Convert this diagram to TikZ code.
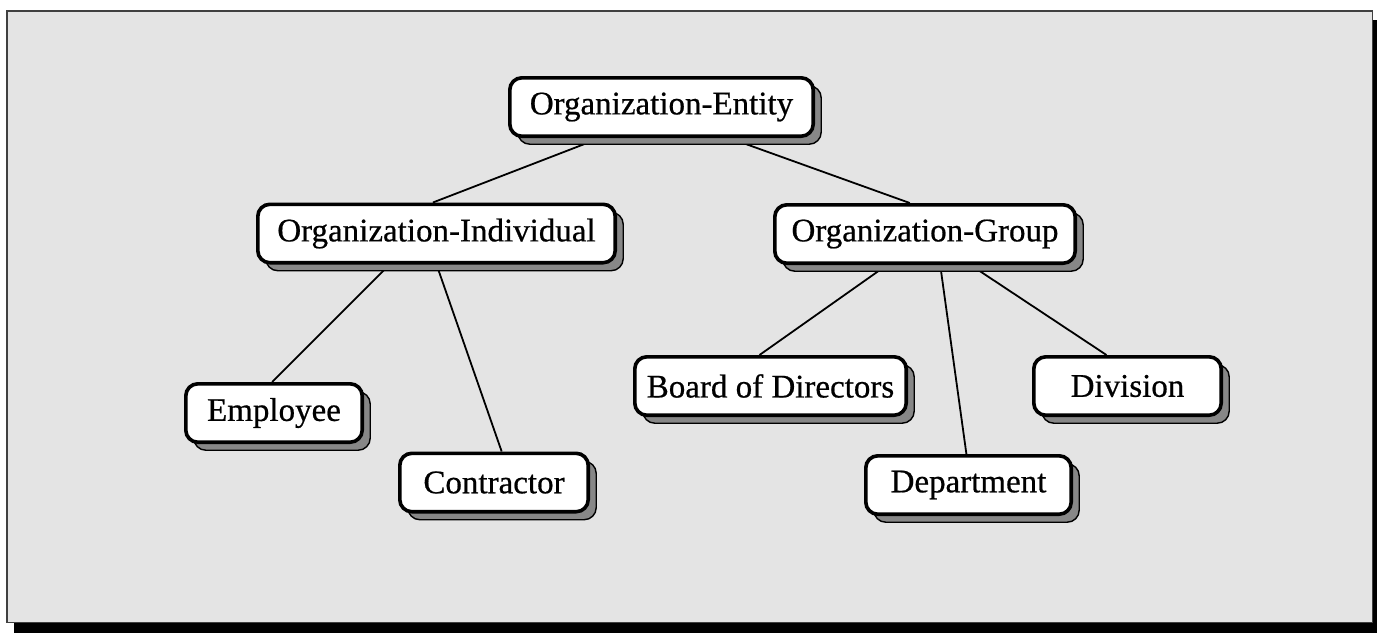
\documentclass[tikz,border=0pt]{standalone}
\usepackage{fontspec}
\setmainfont{Liberation Serif}[FakeBold=0.6]
\usetikzlibrary{calc,shadows,backgrounds}
\definecolor{bg}{RGB}{228,228,228}
\definecolor{shade}{RGB}{135,135,135}
\begin{document}
\begin{tikzpicture}[x=1pt,y=-1pt,
  box/.style={draw=black, line width=3.6pt, rounded corners=12pt, fill=white,
    inner sep=0pt, minimum height=58.4pt,
    font=\fontsize{33}{40}\selectfont,
    drop shadow={shadow xshift=8pt, shadow yshift=-8pt, fill=shade,
      draw=black, line width=1.4pt, opacity=1}},
  link/.style={line width=1.8pt}]
\useasboundingbox (0,0) rectangle (1377,633);
\node[box, minimum width=303.4pt] (ent) at (661.5,107) {Organization-Entity};
\node[box, minimum width=357.4pt] (ind) at (436.5,233.5) {Organization-Individual};
\node[box, minimum width=300.4pt] (grp) at (925,234) {Organization-Group};
\node[box, minimum width=176.4pt] (emp) at (274,413) {Employee};
\node[box, minimum width=188.4pt] (con) at (494,482.5) {Contractor};
\node[box, minimum width=271.4pt] (brd) at (770.5,386) {Board of Directors};
\node[box, minimum width=205.4pt] (dep) at (968.5,485) {Department};
\node[box, minimum width=187.4pt] (div) at (1127.5,386) {Division};
\begin{scope}[on background layer]
  \fill[black] (14,20) rectangle (1377,633);
  \draw[fill=bg, draw=black!75, line width=1.5pt] (6.75,10.75) rectangle (1372.5,622.5);
  \draw[link] ($(ent.south west)!0.3!(ent.south east)$) -- ($(ind.north west)!0.49!(ind.north east)$);
  \draw[link] ($(ent.south west)!0.72!(ent.south east)$) -- ($(grp.north west)!0.45!(grp.north east)$);
  \draw[link] ($(ind.south west)!0.37!(ind.south east)$) -- ($(emp.north west)!0.49!(emp.north east)$);
  \draw[link] ($(ind.south west)!0.5!(ind.south east)$) -- ($(con.north west)!0.54!(con.north east)$);
  \draw[link] ($(grp.south west)!0.375!(grp.south east)$) -- ($(brd.north west)!0.46!(brd.north east)$);
  \draw[link] ($(grp.south west)!0.55!(grp.south east)$) -- ($(dep.north west)!0.49!(dep.north east)$);
  \draw[link] ($(grp.south west)!0.65!(grp.south east)$) -- ($(div.north west)!0.39!(div.north east)$);
\end{scope}
\end{tikzpicture}
\end{document}
